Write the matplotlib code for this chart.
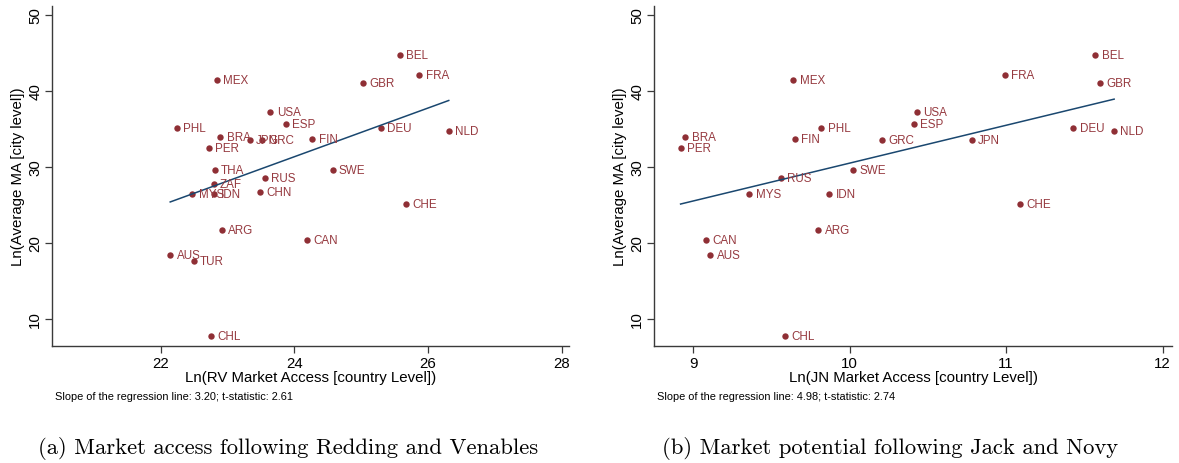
import matplotlib
matplotlib.use("Agg")
import matplotlib.pyplot as plt
import numpy as np

plt.rcParams['font.family'] = ['Liberation Sans', 'DejaVu Sans']

# Redding-Venables market access (country level) vs average city MA
rv_codes = ["BEL", "FRA", "MEX", "GBR", "USA", "ESP", "PHL", "DEU", "NLD",
            "BRA", "JPN", "GRC", "FIN", "PER", "THA", "SWE", "RUS", "ZAF",
            "MYS", "IDN", "CHN", "CHE", "ARG", "CAN", "AUS", "TUR", "CHL"]
rv_x = [25.58, 25.87, 22.84, 25.03, 23.64, 23.87, 22.24, 25.29, 26.31,
        22.89, 23.33, 23.52, 24.27, 22.72, 22.81, 24.57, 23.56, 22.79,
        22.47, 22.80, 23.49, 25.67, 22.91, 24.19, 22.14, 22.49, 22.75]
rv_y = [44.78, 42.07, 41.40, 41.00, 37.24, 35.70, 35.17, 35.09, 34.70,
        33.99, 33.60, 33.60, 33.68, 32.50, 29.57, 29.65, 28.60, 27.70,
        26.50, 26.40, 26.70, 25.17, 21.75, 20.39, 18.46, 17.63, 7.72]
rv_slope = 3.20
rv_tstat = 2.61

# Jack-Novy market potential
jn_codes = ["BEL", "FRA", "GBR", "MEX", "USA", "ESP", "PHL", "FIN", "BRA",
            "PER", "GRC", "JPN", "DEU", "NLD", "SWE", "RUS", "MYS", "IDN",
            "CHE", "ARG", "CAN", "AUS", "CHL"]
jn_x = [11.57, 10.99, 11.60, 9.64, 10.43, 10.41, 9.82, 9.65, 8.95,
        8.92, 10.21, 10.78, 11.43, 11.69, 10.02, 9.56, 9.36, 9.87,
        11.09, 9.80, 9.08, 9.11, 9.59]
jn_y = [44.78, 42.07, 41.00, 41.40, 37.24, 35.70, 35.17, 33.68, 33.99,
        32.50, 33.60, 33.60, 35.09, 34.70, 29.65, 28.60, 26.50, 26.40,
        25.17, 21.75, 20.39, 18.46, 7.72]
jn_slope = 4.98
jn_tstat = 2.74

y_ticks = [10, 20, 30, 40, 50]

DOT = '#8f2f35'
FIT = '#1a476f'
AXC = '#3a3a3a'


def draw_panel(ax, codes, x, y, slope, tstat, xlabel, xticks, xlim):
    x = np.asarray(x)
    y = np.asarray(y)
    ax.plot(x, y, 'o', color=DOT, markersize=4.6, markeredgewidth=0)
    for c, xi, yi in zip(codes, x, y):
        ax.annotate(c, (xi, yi), xytext=(4.5, 0), textcoords='offset points',
                    va='center', ha='left', fontsize=8.4, color='#963a40')

    # fitted line through the means with the reported slope
    xs = np.array([x.min(), x.max()])
    ys = y.mean() + slope * (xs - x.mean())
    ax.plot(xs, ys, color=FIT, linewidth=1.1)

    ax.set_xlim(*xlim)
    ax.set_ylim(6.45, 51.2)
    ax.set_xticks(xticks)
    ax.set_yticks(y_ticks)
    for s in ['top', 'right']:
        ax.spines[s].set_visible(False)
    for s in ['left', 'bottom']:
        ax.spines[s].set_color(AXC)
        ax.spines[s].set_linewidth(1.0)
    ax.tick_params(direction='out', length=5, width=0.9, color=AXC,
                   labelsize=10.8, pad=2)
    for lab in ax.get_yticklabels():
        lab.set_rotation(90)
        lab.set_va('center')
    ax.set_xlabel(xlabel, fontsize=10.8, labelpad=0)
    ax.set_ylabel('Ln(Average MA [city level])', fontsize=10.8, labelpad=2)
    ax.text(0.005, -0.148,
            f'Slope of the regression line: {slope:.2f}; t-statistic: {tstat:.2f}',
            transform=ax.transAxes, fontsize=7.9, ha='left', va='center')


fig = plt.figure(figsize=(11.79, 4.64), dpi=100)
ax1 = fig.add_axes([0.0441, 0.2522, 0.4385, 0.7334])
ax2 = fig.add_axes([0.5547, 0.2522, 0.4394, 0.7334])

draw_panel(ax1, rv_codes, rv_x, rv_y, rv_slope, rv_tstat,
           'Ln(RV Market Access [country Level])', [22, 24, 26, 28], (20.37, 28.11))
draw_panel(ax2, jn_codes, jn_x, jn_y, jn_slope, jn_tstat,
           'Ln(JN Market Access [country Level])', [9, 10, 11, 12], (8.75, 12.06))

fig.text(288 / 1179, 1 - 449 / 464, '(a) Market access following Redding and Venables',
         family='cmr10', fontsize=16.3, ha='center', va='center')
fig.text(890 / 1179, 1 - 449 / 464, '(b) Market potential following Jack and Novy',
         family='cmr10', fontsize=16.3, ha='center', va='center')

fig.savefig('out.png', dpi=100)
